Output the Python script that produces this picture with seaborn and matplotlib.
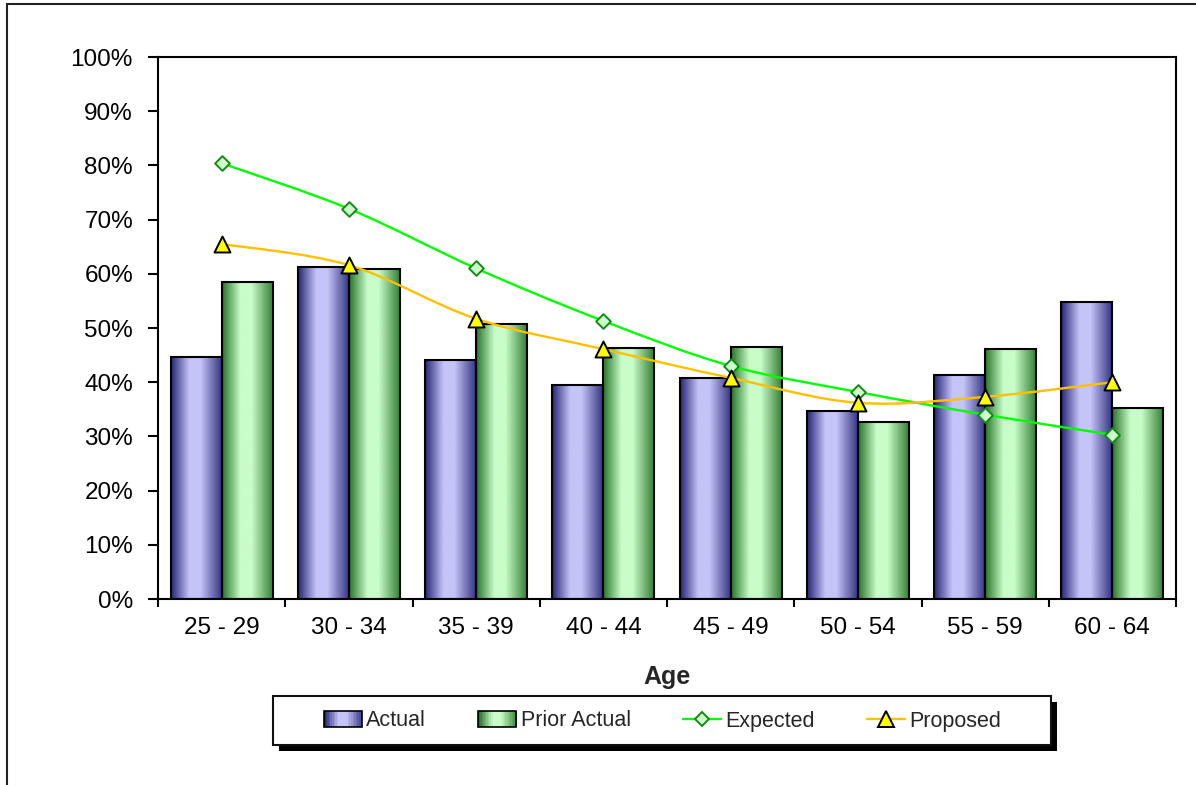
import numpy as np
import pandas as pd
import matplotlib
matplotlib.use("Agg")
import matplotlib.pyplot as plt
import seaborn as sns
from matplotlib.path import Path
from matplotlib.patches import PathPatch, Rectangle
from matplotlib.lines import Line2D
from matplotlib.legend_handler import HandlerBase
from matplotlib.ticker import FuncFormatter
from matplotlib.colors import to_rgb

# ---- data -------------------------------------------------------------
age_groups = ["25 - 29", "30 - 34", "35 - 39", "40 - 44",
              "45 - 49", "50 - 54", "55 - 59", "60 - 64"]
actual = [0.446, 0.613, 0.441, 0.395, 0.408, 0.347, 0.413, 0.548]
prior_actual = [0.585, 0.609, 0.507, 0.463, 0.465, 0.327, 0.461, 0.352]
expected = [0.804, 0.720, 0.610, 0.513, 0.430, 0.382, 0.340, 0.303]
proposed = [0.655, 0.616, 0.517, 0.461, 0.408, 0.362, 0.373, 0.400]
y_ticks = [0.0, 0.1, 0.2, 0.3, 0.4, 0.5, 0.6, 0.7, 0.8, 0.9, 1.0]
bar_series = ["Actual", "Prior Actual"]
line_series = ["Expected", "Proposed"]
x_title = "Age"

# ---- style ------------------------------------------------------------
W, H = 1196, 785
sns.set_theme(style="white")
plt.rcParams["font.family"] = ["Liberation Sans", "DejaVu Sans"]

bar_dark = {"Actual": "#262676", "Prior Actual": "#267428"}
bar_light = {"Actual": "#c4c4f8", "Prior Actual": "#c8fcc8"}


def gradient_colors(dark, light, n=96):
    """Horizontal shading: dark edges, light band slightly left of centre."""
    t = np.linspace(0, 1, n)
    w = np.interp(t, [0.0, 0.36, 0.58, 1.0], [0.0, 1.0, 1.0, 0.1])
    d, l = np.array(to_rgb(dark)), np.array(to_rgb(light))
    return d[None, :] + (l - d)[None, :] * w[:, None]


grads = {s: gradient_colors(bar_dark[s], bar_light[s]) for s in bar_series}

fig = plt.figure(figsize=(W / 100, H / 100), dpi=100)
fig.patch.set_facecolor("white")
ax = fig.add_axes([158 / W, 1 - 599 / H, (1176 - 158) / W, (599 - 57) / H])
ax.set_facecolor("white")

# ---- bars -------------------------------------------------------------
df = pd.DataFrame({
    "age": age_groups * 2,
    "value": actual + prior_actual,
    "series": [bar_series[0]] * len(age_groups) + [bar_series[1]] * len(age_groups),
})
sns.barplot(data=df, x="age", y="value", hue="series", hue_order=bar_series,
            order=age_groups, palette=[bar_light[s] for s in bar_series],
            width=0.8, edgecolor="black", linewidth=1.5, legend=False,
            errorbar=None, ax=ax, zorder=2)

n = len(age_groups)
bars = [p for p in ax.patches if isinstance(p, Rectangle)]
for i, p in enumerate(bars[: 2 * n]):
    series = bar_series[i // n]
    x0, y0, w, h = p.get_x(), p.get_y(), p.get_width(), p.get_height()
    im = ax.imshow(grads[series][None, :, :], extent=[x0, x0 + w, y0, y0 + h],
                   aspect="auto", interpolation="bilinear", zorder=1.9)
    im.set_clip_path(p)
    p.set_facecolor("none")


# ---- smoothed lines ---------------------------------------------------
def smooth_path(xs, ys):
    pts = np.column_stack([xs, ys]).astype(float)
    verts, codes = [pts[0]], [Path.MOVETO]
    m = len(pts)
    for i in range(m - 1):
        p0 = pts[i - 1] if i > 0 else pts[i]
        p1, p2 = pts[i], pts[i + 1]
        p3 = pts[i + 2] if i + 2 < m else pts[i + 1]
        verts += [p1 + (p2 - p0) / 6, p2 - (p3 - p1) / 6, p2]
        codes += [Path.CURVE4] * 3
    return Path(verts, codes)


xpos = np.arange(n)
line_styles = {
    "Expected": dict(color="#00ff00", marker="D", ms=7.5, mfc="#ccffcc", mec="#138a13", mew=1.4),
    "Proposed": dict(color="#ffc000", marker="^", ms=11.5, mfc="#ffff00", mec="black", mew=1.4),
}
for name, vals in zip(line_series, [expected, proposed]):
    st = line_styles[name]
    ax.add_patch(PathPatch(smooth_path(xpos, vals), facecolor="none",
                           edgecolor=st["color"], lw=1.7, zorder=3))
    sns.scatterplot(x=xpos, y=vals, marker=st["marker"], s=st["ms"] ** 2,
                    color=st["mfc"], edgecolor=st["mec"], linewidth=st["mew"],
                    zorder=4, ax=ax, legend=False)

# ---- axes -------------------------------------------------------------
ax.set_xlim(-0.5, n - 0.5)
ax.set_ylim(0, 1.0)
ax.set_yticks(y_ticks)
ax.yaxis.set_major_formatter(FuncFormatter(lambda v, _: f"{v * 100:.0f}%"))
ax.set_xticks(np.arange(n + 1) - 0.5, [""] * (n + 1))
ax.set_xticks(xpos, age_groups, minor=True)
ax.tick_params(axis="y", which="major", direction="out", length=7, width=1.5,
               pad=11, labelsize=17.5, colors="black", left=True)
ax.tick_params(axis="x", which="major", direction="out", length=6, width=1.5,
               colors="black", bottom=True)
ax.tick_params(axis="x", which="minor", length=0, pad=13, labelsize=17.5,
               colors="black")
for sp in ax.spines.values():
    sp.set_visible(True)
    sp.set_color("black")
    sp.set_linewidth(1.5)
ax.set_ylabel("")
ax.set_xlabel(x_title, fontsize=18, fontweight="bold", labelpad=19)

# ---- legend -----------------------------------------------------------
class GradientHandler(HandlerBase):
    def __init__(self, colors):
        super().__init__()
        self.colors = colors

    def create_artists(self, legend, orig_handle, xdescent, ydescent,
                       width, height, fontsize, trans):
        k = len(self.colors)
        arts = []
        for j, c in enumerate(self.colors):
            arts.append(Rectangle((-xdescent + width * j / k, -ydescent),
                                  width / k * 1.2, height, facecolor=c,
                                  edgecolor="none", transform=trans))
        arts.append(Rectangle((-xdescent, -ydescent), width, height,
                              facecolor="none", edgecolor="black", lw=1.2,
                              transform=trans))
        return arts


h_act = Rectangle((0, 0), 1, 1)
h_pri = Rectangle((0, 0), 1, 1)
h_exp = Line2D([], [], lw=1.7, **line_styles["Expected"])
h_pro = Line2D([], [], lw=1.7, **line_styles["Proposed"])
leg = fig.legend([h_act, h_pri, h_exp, h_pro], bar_series + line_series,
                 handler_map={h_act: GradientHandler(grads["Actual"][::4]),
                              h_pri: GradientHandler(grads["Prior Actual"][::4])},
                 loc="center left", bbox_to_anchor=(324 / W, 1 - 721 / H),
                 ncol=4, frameon=False, borderpad=0, borderaxespad=0,
                 fontsize=15.5, handlelength=1.77, handleheight=0.75,
                 handletextpad=0.2, columnspacing=2.42)
leg.set_zorder(10)

# legend box with drop shadow
fig.add_artist(Rectangle((279 / W, 1 - 751 / H), 778 / W, 49 / H,
                         transform=fig.transFigure, facecolor="black",
                         edgecolor="none", zorder=2))
fig.add_artist(Rectangle((273 / W, 1 - 745 / H), 778 / W, 49 / H,
                         transform=fig.transFigure, facecolor="white",
                         edgecolor="#111111", lw=1.5, zorder=3))

# outer chart frame
fig.add_artist(Line2D([7 / W, 7 / W], [1 - 4 / H, 0], transform=fig.transFigure,
                      color="#222222", lw=1.5))
fig.add_artist(Line2D([7 / W, 1], [1 - 4 / H, 1 - 4 / H], transform=fig.transFigure,
                      color="#222222", lw=1.5))

fig.savefig("out.png", dpi=100, facecolor="white")
